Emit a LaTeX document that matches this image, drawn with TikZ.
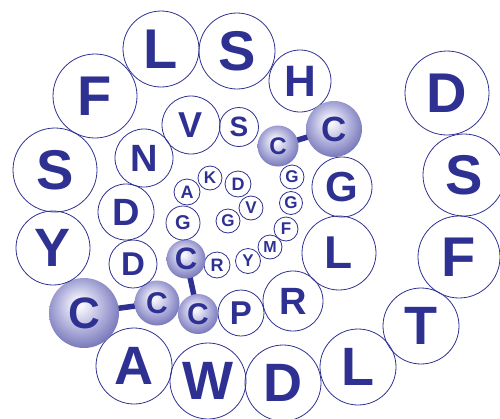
\documentclass[tikz,border=0pt]{standalone}
\usepackage{fontspec}
\setmainfont{Liberation Sans}
\usetikzlibrary{backgrounds}
\definecolor{navy}{RGB}{46,49,146}
\definecolor{sphhi}{RGB}{246,246,252}
\definecolor{sphmid}{RGB}{180,180,222}
\definecolor{sphedge}{RGB}{106,106,178}
\pgfdeclareradialshading{sphere}{\pgfqpoint{-4bp}{7bp}}{color(0bp)=(sphhi); color(3bp)=(sphhi); color(16bp)=(sphmid); color(31bp)=(sphedge); color(50bp)=(sphedge)}
\tikzset{
  res/.style={circle, draw=navy, line width=0.8pt, inner sep=0pt, minimum size={2*#1pt}, text=navy},
  ball/.style={circle, inner sep=0pt, minimum size={2*#1pt}, shade, shading=sphere, text=navy},
  fs/.style={font=\fontsize{#1}{#1}\selectfont\bfseries},
  link/.style={draw=navy, line width=5.5pt}
}
\begin{document}
\begin{tikzpicture}[x=1pt,y=-1pt]
\useasboundingbox (0,0) rectangle (500,418);
% outer ring
\node[res=42,fs=56] (d1) at (447,93) {D};
\node[res=41,fs=56] (s1) at (464,175) {S};
\node[res=41,fs=56] (f1) at (459,257) {F};
\node[res=38,fs=54] (t1) at (421,326) {T};
\node[res=38,fs=54] (l1) at (358,367) {L};
\node[res=38,fs=54] (d2) at (283,383) {D};
\node[res=38,fs=54] (w1) at (208,381) {W};
\node[res=38,fs=54] (a1) at (134,366) {A};
\node[ball=35,fs=44] (c1) at (84,313) {C};
\node[res=37,fs=54] (y1) at (53,248) {Y};
\node[res=42,fs=56] (s2) at (55,170) {S};
\node[res=42,fs=56] (f2) at (95,96) {F};
\node[res=38,fs=56] (l2) at (161,49) {L};
\node[res=38,fs=56] (s3) at (237,51) {S};
\node[res=31,fs=44] (h1) at (300,81) {H};
\node[ball=28,fs=35] (c2) at (334,129) {C};
% middle ring
\node[res=30,fs=42] (g1) at (342,187) {G};
\node[res=37,fs=46] (l3) at (339,253) {L};
\node[res=30,fs=38] (r1) at (293,301) {R};
\node[res=23,fs=33] (p1) at (241,313) {P};
\node[ball=20,fs=30] (c3) at (198,314) {C};
\node[ball=22.5,fs=30] (c4) at (157,303) {C};
\node[res=24,fs=33] (d3) at (133,264) {D};
\node[res=28,fs=38] (d4) at (126,212) {D};
\node[res=29,fs=38] (n1) at (144,158) {N};
\node[res=29,fs=36] (v1) at (191,125) {V};
\node[res=19.5,fs=28] (s4) at (239,127) {S};
\node[ball=20.5,fs=24] (c5) at (278,146) {C};
% inner ring
\node[res=12,fs=17] (g2) at (292,177) {G};
\node[res=11.5,fs=17] (g3) at (291,203) {G};
\node[res=12,fs=17] (f3) at (286,229) {F};
\node[res=12,fs=16] (m1) at (270,247) {M};
\node[res=12.5,fs=17] (y2) at (248,261) {Y};
\node[res=13,fs=18] (r2) at (217,265) {R};
\node[ball=19.5,fs=31] (c6) at (186,259) {C};
\node[res=17,fs=20] (g4) at (183,223) {G};
\node[res=13,fs=18] (a2) at (187,192) {A};
\node[res=12,fs=17] (k1) at (210,178) {K};
\node[res=13,fs=18] (d5) at (238,184) {D};
\node[res=12,fs=17] (v2) at (251,208) {V};
\node[res=12,fs=17] (g5) at (228,221) {G};
% disulfide links
\begin{pgfonlayer}{background}
\draw[link] (c1.center) -- (c4.center);
\draw[link] (c6.center) -- (c3.center);
\draw[link] (c5.center) -- (c2.center);
\end{pgfonlayer}
\end{tikzpicture}
\end{document}
